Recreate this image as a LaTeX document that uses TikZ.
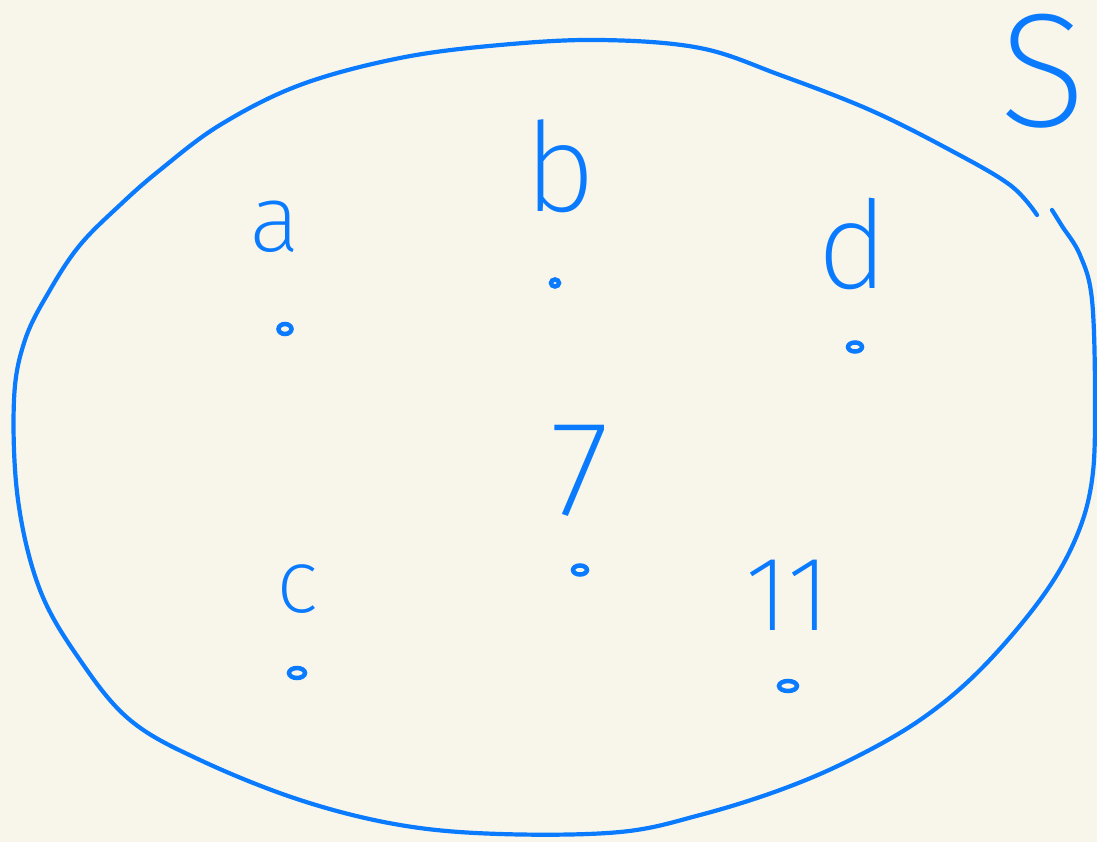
\documentclass[tikz,border=0pt]{standalone}
\usepackage{fontspec}
\newfontfamily\hand{Fira Sans ExtraLight}
\definecolor{paper}{HTML}{F8F6EB}
\definecolor{ink}{HTML}{0A7BFF}
\tikzset{
  lbl/.style={text=ink, inner sep=0pt, anchor=base, font=\hand},
  pt/.style={draw=ink, line width=4.5pt},
  setline/.style={draw=ink, line width=4.2pt, line cap=round, line join=round}
}
\begin{document}
\begin{tikzpicture}[x=1pt,y=-1pt]
\fill[paper] (0,0) rectangle (1097,842);
\useasboundingbox (0,0) rectangle (1097,842);
% set boundary
\draw[setline] plot[smooth, tension=0.6] coordinates {
 (1052,210) (1062,226) (1080,255) (1092,300) (1095,400) (1092,480) (1075,540) (1040,600)
 (980,670) (920,720) (850,760) (780,790) (700,815) (620,832) (500,834) (400,825)
 (300,800) (200,760) (130,720) (80,660) (40,590) (18,500) (14,400) (25,340)
 (50,290) (80,245) (120,205) (160,170) (220,125) (300,85) (400,58) (500,45)
 (600,40) (700,48) (780,75) (870,110) (950,150) (1010,185) (1037,215)};
% labels
\node[lbl, font=\hand\fontsize{95}{100}\selectfont] (la) at (275,252) {a};
\node[lbl, font=\hand\fontsize{124}{130}\selectfont] (lb) at (560,212) {b};
\node[lbl, font=\hand\fontsize{122}{130}\selectfont] (ld) at (853,288) {d};
\node[lbl, font=\hand\fontsize{136}{140}\selectfont] (l7) at (580,515) {7};
\node[lbl, font=\hand\fontsize{90}{100}\selectfont] (lc) at (297,612) {c};
\node[lbl, font=\hand\fontsize{106}{110}\selectfont] (l11) at (788,630) {11};
\node[lbl, font=\hand\fontsize{162}{170}\selectfont] (lS) at (1043,127) {S};
% elements
\draw[pt] (285,329) ellipse (6.5 and 5);
\draw[pt] (555,283) ellipse (4 and 3.5);
\draw[pt] (855,347) ellipse (7 and 4.5);
\draw[pt] (580,570) ellipse (7 and 4.5);
\draw[pt] (297,673) ellipse (8 and 5);
\draw[pt] (788,686) ellipse (9 and 5);
\end{tikzpicture}
\end{document}
